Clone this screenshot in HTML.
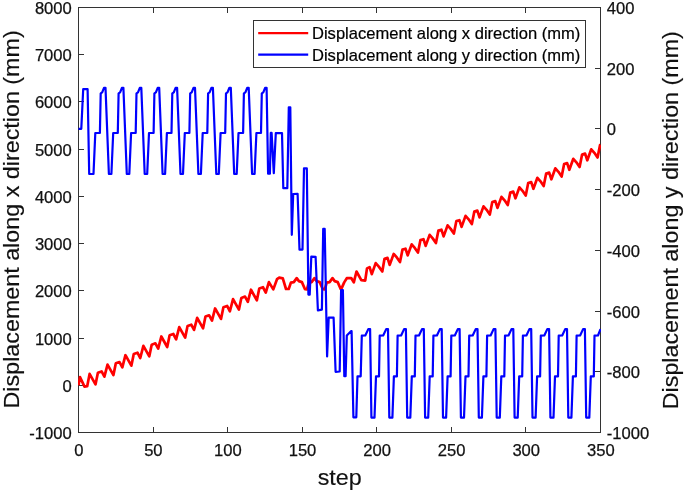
<!DOCTYPE html>
<html lang="en"><head><meta charset="utf-8"><title>Displacement plot</title>
<style>html,body{margin:0;padding:0;background:#fff}svg{display:block}</style></head>
<body>
<svg width="685" height="492" viewBox="0 0 685 492">
<rect width="685" height="492" fill="#fff"/>
<g stroke="#333" stroke-width="1" fill="none" shape-rendering="crispEdges">
<rect x="78.5" y="7.5" width="522.0" height="425.0"/>
<path d="M153.5 432.5v-5.2M153.5 7.5v5.2M227.5 432.5v-5.2M227.5 7.5v5.2M302.5 432.5v-5.2M302.5 7.5v5.2M376.5 432.5v-5.2M376.5 7.5v5.2M451.5 432.5v-5.2M451.5 7.5v5.2M525.5 432.5v-5.2M525.5 7.5v5.2M78.5 385.5h5.2M78.5 338.5h5.2M78.5 290.5h5.2M78.5 243.5h5.2M78.5 196.5h5.2M78.5 149.5h5.2M78.5 101.5h5.2M78.5 54.5h5.2M600.5 371.5h-5.2M600.5 311.5h-5.2M600.5 250.5h-5.2M600.5 189.5h-5.2M600.5 128.5h-5.2M600.5 68.5h-5.2"/>
</g>
<clipPath id="c"><rect x="78.0" y="7.5" width="523.0" height="425.0"/></clipPath><g clip-path="url(#c)">
<polyline fill="none" stroke="#f00" stroke-width="2.7" stroke-linejoin="round" points="78.5,385.3 80,377.1 84.5,386.6 87.2,386.2 89.6,373.9 95.5,384.4 97.9,372.7 101.6,371.4 104.4,376.7 107.53,364.55 113.43,375.05 115.83,363.35 119.53,362.05 122.33,367.35 125.46,355.2 131.36,365.7 133.76,354 137.46,352.7 140.26,358 143.39,345.85 149.29,356.35 151.69,344.65 155.39,343.35 158.19,348.65 161.32,336.5 167.22,347 169.62,335.3 173.32,334 176.12,339.3 179.25,327.15 185.15,337.65 187.55,325.95 191.25,324.65 194.05,329.95 197.18,317.8 203.08,328.3 205.48,316.6 209.18,315.3 211.98,320.6 215.11,308.45 221.01,318.95 223.41,307.25 227.11,305.95 229.91,311.25 233.04,299.1 238.94,309.6 241.34,297.9 245.04,296.6 247.84,301.9 250.97,289.75 256.87,300.25 259.27,288.55 262.97,287.25 265.77,292.55 268.9,282.1 273.3,289.4 277,279.2 279.2,277.7 282.8,278.4 286,289 288.7,289 290.9,282.6 293.8,282.1 296.7,278.1 298.9,281.1 301.9,282.1 305,289.2 307,289.3 308.7,282.6 311.6,282.1 314.5,278.1 316.7,281.1 319.7,282.1 322.8,289.2 324.8,289.3 326.7,282.6 329.6,282.1 332.5,278.1 334.7,281.1 337.7,282.1 340.8,289.2 341.1,289.4 344.2,282.4 346.8,278.2 351.2,278 353.8,282.4 356.5,271.5 361.3,280.2 365.2,280.6 367,268.4 369.6,267.1 371.8,274.1 375.7,263.1 378.8,266.6 382.3,271.5 384.5,258.8 387.5,257.9 389.7,264.9 393.7,253.9 396.8,257.4 400,262.1 402.5,249.6 405.5,248.7 407.7,255.4 411.66,244.39 414.76,247.89 417.96,252.59 420.46,240.09 423.46,239.19 425.66,245.89 429.62,234.88 432.72,238.38 435.92,243.08 438.42,230.58 441.42,229.68 443.62,236.38 447.58,225.37 450.68,228.87 453.88,233.57 456.38,221.07 459.38,220.17 461.58,226.87 465.54,215.86 468.64,219.36 471.84,224.06 474.34,211.56 477.34,210.66 479.54,217.36 483.5,206.35 486.6,209.85 489.8,214.55 492.3,202.05 495.3,201.15 497.5,207.85 501.46,196.84 504.56,200.34 507.76,205.04 510.26,192.54 513.26,191.64 515.46,198.34 519.42,187.33 522.52,190.83 525.72,195.53 528.22,183.03 531.22,182.13 533.42,188.83 537.38,177.82 540.48,181.32 543.68,186.02 546.18,173.52 549.18,172.62 551.38,179.32 555.34,168.31 558.44,171.81 561.64,176.51 564.14,164.01 567.14,163.11 569.34,169.81 573.3,158.8 576.4,162.3 579.6,167 582.1,154.5 585.1,153.6 587.3,160.3 591.26,149.29 594.36,152.79 597.56,157.49 600.06,144.99 600.5,144.86"/>
<polyline fill="none" stroke="#00f" stroke-width="2.2" stroke-linejoin="round" points="78.5,128.8 81.3,128.8 83.2,89.2 87.6,89.2 89.2,174 93.5,174 95.3,133 99.9,133 100.7,93.3 102.2,92.3 104,87.8 105.5,87.8 108.9,174 111.4,174 113.2,133 117.8,133 118.6,93.3 120.1,92.3 121.9,87.8 123.4,87.8 126.8,174 129.3,174 131.1,133 135.7,133 136.5,93.3 138,92.3 139.8,87.8 141.3,87.8 144.7,174 147.2,174 149,133 153.6,133 154.4,93.3 155.9,92.3 157.7,87.8 159.2,87.8 162.6,174 165.1,174 166.9,133 171.5,133 172.3,93.3 173.8,92.3 175.6,87.8 177.1,87.8 180.5,174 183,174 184.8,133 189.4,133 190.2,93.3 191.7,92.3 193.5,87.8 195,87.8 198.4,174 200.9,174 202.7,133 207.3,133 208.1,93.3 209.6,92.3 211.4,87.8 212.9,87.8 216.3,174 218.8,174 220.6,133 225.2,133 226,93.3 227.5,92.3 229.3,87.8 230.8,87.8 234.2,174 236.7,174 238.5,133 243.1,133 243.9,93.3 245.4,92.3 247.2,87.8 248.7,87.8 252.1,174 254.6,174 256.4,133 261,133 261.8,93.3 263.3,92.3 265.1,87.8 266.6,87.8 268.1,173.7 269.9,173.7 270.8,132.9 271.6,132.9 273.8,173.1 275.8,133.1 282,133.1 283.3,188.2 287.3,188.2 288.8,107.3 290.3,107.3 291.8,234.8 293.2,194 297.6,193.8 299.5,249.6 302.5,249.6 304,168.3 306.8,168.3 308.4,294.6 309.7,294.6 311.3,256.6 315.6,256.8 317.9,310.4 321.9,309.6 323.2,228.9 324.7,228.9 327.1,356.5 328.7,317.5 333.6,317.7 335.6,371.8 339.7,371.5 341.1,290.2 342.9,290.2 344.3,376.2 345.6,376.2 346.8,335.6 351,331.2 351.6,331.2 353.4,417.3 356.3,417.3 357.5,376.3 360.7,376.3 361.8,335.7 365.3,335.5 368.3,329.1 370.1,329.1 371.4,417.6 374.5,417.6 376,376.4 379,376.4 379.7,335.7 383.2,335.5 386.2,329.1 388,329.1 389.3,417.6 392.4,417.6 393.9,376.4 396.9,376.4 397.6,335.7 401.1,335.5 404.1,329.1 405.9,329.1 407.2,417.6 410.3,417.6 411.8,376.4 414.8,376.4 415.5,335.7 419,335.5 422,329.1 423.8,329.1 425.1,417.6 428.2,417.6 429.7,376.4 432.7,376.4 433.4,335.7 436.9,335.5 439.9,329.1 441.7,329.1 443,417.6 446.1,417.6 447.6,376.4 450.6,376.4 451.3,335.7 454.8,335.5 457.8,329.1 459.6,329.1 460.9,417.6 464,417.6 465.5,376.4 468.5,376.4 469.2,335.7 472.7,335.5 475.7,329.1 477.5,329.1 478.8,417.6 481.9,417.6 483.4,376.4 486.4,376.4 487.1,335.7 490.6,335.5 493.6,329.1 495.4,329.1 496.7,417.6 499.8,417.6 501.3,376.4 504.3,376.4 505,335.7 508.5,335.5 511.5,329.1 513.3,329.1 514.6,417.6 517.7,417.6 519.2,376.4 522.2,376.4 522.9,335.7 526.4,335.5 529.4,329.1 531.2,329.1 532.5,417.6 535.6,417.6 537.1,376.4 540.1,376.4 540.8,335.7 544.3,335.5 547.3,329.1 549.1,329.1 550.4,417.6 553.5,417.6 555,376.4 558,376.4 558.7,335.7 562.2,335.5 565.2,329.1 567,329.1 568.3,417.6 571.4,417.6 572.9,376.4 575.9,376.4 576.6,335.7 580.1,335.5 583.1,329.1 584.9,329.1 586.2,417.6 589.3,417.6 590.8,376.4 593.8,376.4 594.5,335.7 598,335.5 600.5,329.1"/>
</g>
<g font-family="'Liberation Sans', Arial, sans-serif" font-size="16.6" fill="#111" stroke="#111" stroke-width="0.25">
<text x="78.8" y="456.3" text-anchor="middle">0</text>
<text x="153.37" y="456.3" text-anchor="middle">50</text>
<text x="227.94" y="456.3" text-anchor="middle">100</text>
<text x="302.51" y="456.3" text-anchor="middle">150</text>
<text x="377.09" y="456.3" text-anchor="middle">200</text>
<text x="451.66" y="456.3" text-anchor="middle">250</text>
<text x="526.23" y="456.3" text-anchor="middle">300</text>
<text x="600.8" y="456.3" text-anchor="middle">350</text>
<text x="71.8" y="439" text-anchor="end">-1000</text>
<text x="71.8" y="391.78" text-anchor="end">0</text>
<text x="71.8" y="344.56" text-anchor="end">1000</text>
<text x="71.8" y="297.33" text-anchor="end">2000</text>
<text x="71.8" y="250.11" text-anchor="end">3000</text>
<text x="71.8" y="202.89" text-anchor="end">4000</text>
<text x="71.8" y="155.67" text-anchor="end">5000</text>
<text x="71.8" y="108.44" text-anchor="end">6000</text>
<text x="71.8" y="61.22" text-anchor="end">7000</text>
<text x="71.8" y="14" text-anchor="end">8000</text>
<text x="606.8" y="439">-1000</text>
<text x="606.8" y="378.29">-800</text>
<text x="606.8" y="317.57">-600</text>
<text x="606.8" y="256.86">-400</text>
<text x="606.8" y="196.14">-200</text>
<text x="606.8" y="135.43">0</text>
<text x="606.8" y="74.71">200</text>
<text x="606.8" y="14">400</text>
</g>
<g font-family="'Liberation Sans', Arial, sans-serif" font-size="22.1" fill="#111" stroke="#111" stroke-width="0.15">
<text transform="translate(339.7 484.5) scale(1.055 1)" text-anchor="middle">step</text>
<text transform="translate(19.2 219.4) rotate(-90) scale(1.055 1)" text-anchor="middle">Displacement along x direction (mm)</text>
<text transform="translate(678 220.2) rotate(-90) scale(1.055 1)" text-anchor="middle">Displacement along y direction (mm)</text>
</g>
<rect x="253.5" y="20.5" width="332" height="46.5" fill="#fff" stroke="#333" stroke-width="1" shape-rendering="crispEdges"/>
<line x1="258.2" x2="308.2" y1="33.1" y2="33.1" stroke="#f00" stroke-width="2.4"/>
<line x1="258.2" x2="308.2" y1="54.6" y2="54.6" stroke="#00f" stroke-width="2.4"/>
<g font-family="'Liberation Sans', Arial, sans-serif" font-size="16" fill="#000" stroke="#000" stroke-width="0.2">
<text transform="translate(312 39.4) scale(1.034 1)">Displacement along x direction (mm)</text>
<text transform="translate(312 60.8) scale(1.034 1)">Displacement along y direction (mm)</text>
</g>
</svg>
</body></html>
